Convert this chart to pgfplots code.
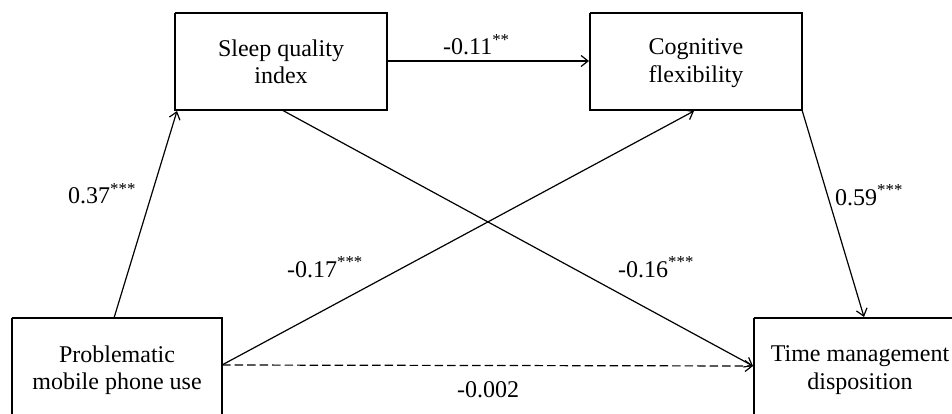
\documentclass[border=0pt]{standalone}
\usepackage{fontspec}
\setmainfont{Liberation Serif}
\usepackage{pgfplots}
\pgfplotsset{compat=1.18}
\usetikzlibrary{arrows.meta}
\begin{document}
\begin{tikzpicture}
\fontsize{24pt}{28pt}\selectfont
\begin{axis}[
  width=952pt, height=414pt, scale only axis,
  xmin=0, xmax=952, ymin=0, ymax=414, y dir=reverse,
  hide axis, clip=true,
]
% boxes
\addplot[black, line width=1.4pt, line join=miter] coordinates {(175,13) (387,13) (387,110) (175,110) (175,13)};
\addplot[black, line width=1.4pt, line join=miter] coordinates {(590,13) (802,13) (802,110) (590,110) (590,13)};
\addplot[black, line width=1.4pt, line join=miter] coordinates {(12,318) (222,318) (222,416) (12,416) (12,318)};
\addplot[black, line width=1.4pt, line join=miter] coordinates {(754,318) (966,318) (966,416) (754,416) (754,318)};
% arrows
\addplot[black, line width=1.2pt, -{Straight Barb[length=7pt,width=11pt]}] coordinates {(114,318) (177,111)};
\addplot[black, line width=1.2pt, -{Straight Barb[length=7pt,width=11pt]}] coordinates {(387,61) (589,61)};
\addplot[black, line width=1.2pt, -{Straight Barb[length=7pt,width=11pt]}] coordinates {(282,110) (753,366)};
\addplot[black, line width=1.2pt, -{Straight Barb[length=7pt,width=11pt]}] coordinates {(222,365) (694,111)};
\addplot[black, line width=1.2pt, -{Straight Barb[length=7pt,width=11pt]}] coordinates {(802,110) (864,317)};
\addplot[black, line width=1.2pt, dash pattern=on 8.5pt off 4pt, -{Straight Barb[length=7pt,width=11pt]}] coordinates {(222,365) (753,366)};
% box texts
\node[anchor=base, inner sep=0pt] at (axis cs:281,57) {Sleep quality};
\node[anchor=base, inner sep=0pt] at (axis cs:281,84) {index};
\node[anchor=base, inner sep=0pt] at (axis cs:696,55) {Cognitive};
\node[anchor=base, inner sep=0pt] at (axis cs:696,83) {flexibility};
\node[anchor=base, inner sep=0pt] at (axis cs:117,362) {Problematic};
\node[anchor=base, inner sep=0pt] at (axis cs:117,389) {mobile phone use};
\node[anchor=base, inner sep=0pt] at (axis cs:860,361) {Time management};
\node[anchor=base, inner sep=0pt] at (axis cs:860,389) {disposition};
% coefficients
\node[anchor=base west, inner sep=0pt] at (axis cs:443,55) {-0.11\textsuperscript{**}};
\node[anchor=base west, inner sep=0pt] at (axis cs:68,204) {0.37\textsuperscript{***}};
\node[anchor=base west, inner sep=0pt] at (axis cs:835,205) {0.59\textsuperscript{***}};
\node[anchor=base west, inner sep=0pt] at (axis cs:287,277) {-0.17\textsuperscript{***}};
\node[anchor=base west, inner sep=0pt] at (axis cs:618,277) {-0.16\textsuperscript{***}};
\node[anchor=base west, inner sep=0pt] at (axis cs:457,397) {-0.002};
\end{axis}
\pgfresetboundingbox
\path[use as bounding box] (current axis.south west) rectangle (current axis.north east);
\end{tikzpicture}
\end{document}
